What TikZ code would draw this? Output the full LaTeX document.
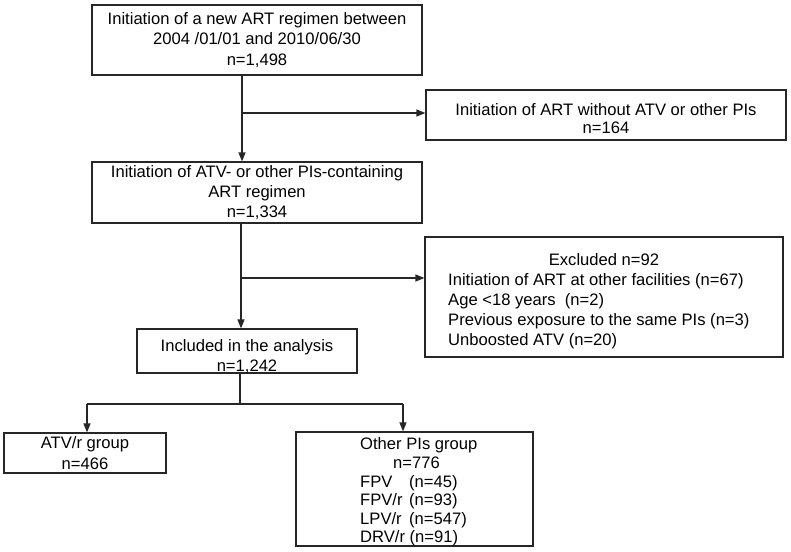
\documentclass[tikz,border=0pt]{standalone}
\usepackage{fontspec}
\setmainfont{Liberation Sans}
\usetikzlibrary{arrows.meta,calc}
\begin{document}
\begin{tikzpicture}[x=1pt,y=-1pt,
  box/.style={draw=black!85,line width=1.2pt,rectangle,inner sep=0pt,align=center,
    font=\fontsize{16.6}{20.3}\selectfont},
  txt/.style={inner sep=0pt,font=\fontsize{16.6}{20}\selectfont},
  link/.style={draw=black!85,line width=1.3pt},
  arr/.style={link,-{Triangle[length=9pt,width=7pt]}}]
\useasboundingbox (0,0) rectangle (791,551);
\node[box,minimum width=330pt,minimum height=70pt] (b1) at (257,40)
  {Initiation of a new ART regimen between\\2004 /01/01 and 2010/06/30\\n=1,498};
\node[box,minimum width=360pt,minimum height=50pt] (b3) at (606,115) {};
\node[txt,align=center,font=\fontsize{16.6}{18.5}\selectfont] (b3t) at (606,118.5)
  {Initiation of ART without ATV or other PIs\\n=164};
\node[box,minimum width=330pt,minimum height=61pt,font=\fontsize{16.6}{19.6}\selectfont] (b2) at (257,192.5)
  {Initiation of ATV- or other PIs-containing\\ART regimen\\n=1,334};
\node[box,minimum width=358pt,minimum height=120pt] (b5) at (604,297) {};
\node[txt] (b5h) at (604,259.5) {Excluded n=92};
\node[txt,anchor=north west,align=left] (b5t) at (448,273)
  {Initiation of ART at other facilities (n=67)\\Age <18 years~ (n=2)\\Previous exposure to the same PIs (n=3)\\Unboosted ATV (n=20)};
\node[box,minimum width=220pt,minimum height=44pt] (b4) at (247,351) {};
\node[txt,align=center] (b4t) at (247,357)
  {Included in the analysis\\n=1,242};
\node[box,minimum width=162pt,minimum height=40pt] (b6) at (85,453)
  {ATV/r group\\n=466};
\node[box,minimum width=237pt,minimum height=114pt] (b7) at (414.5,489) {};
\node[txt,anchor=west] (b7h) at (360,445) {Other PIs group};
\node[txt,anchor=west] (b7n) at (393,463) {n=776};
\node[txt,anchor=north west,align=left,font=\fontsize{16.6}{18.5}\selectfont] (b7t) at (360,475)
  {\makebox[49pt][l]{FPV}(n=45)\\\makebox[49pt][l]{FPV/r}(n=93)\\\makebox[49pt][l]{LPV/r}(n=547)\\DRV/r (n=91)};
\coordinate (j1) at (242,113);
\draw[arr] (j1 |- b1.south) -- (j1 |- b2.north);
\draw[arr] (j1) -- (j1 -| b3.west);
\coordinate (j2) at (241,278);
\draw[arr] (j2 |- b2.south) -- (j2 |- b4.north);
\draw[arr] (j2) -- (j2 -| b5.west);
\coordinate (j3) at (240,404);
\coordinate (k6) at (87,404);
\coordinate (k7) at (403,404);
\draw[link] (j3 |- b4.south) -- (j3);
\draw[link] (k6) -- (k7);
\draw[arr] (k6) -- (k6 |- b6.north);
\draw[arr] (k7) -- (k7 |- b7.north);
\end{tikzpicture}
\end{document}
